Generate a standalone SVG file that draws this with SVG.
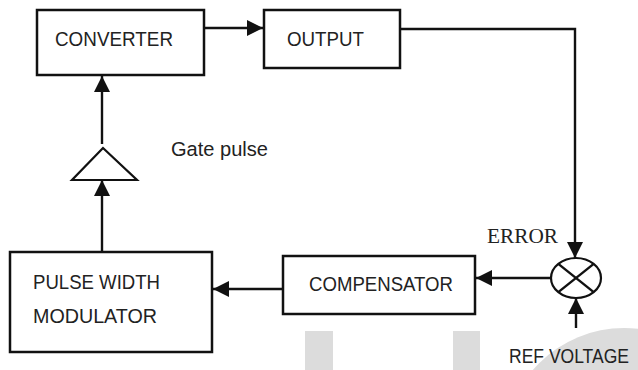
<svg xmlns="http://www.w3.org/2000/svg" width="638" height="370" viewBox="0 0 638 370">
<style>
.box{fill:#fff;stroke:#111;stroke-width:2.5}
.ln{fill:none;stroke:#111;stroke-width:2.4}
.t{font-family:"Liberation Sans",Arial,sans-serif;font-size:20.5px;fill:#222}
.s{font-family:"Liberation Serif","Times New Roman",serif;font-size:21.5px;fill:#222}
.wm{fill:#dcdcdc}
</style>
<defs>
<marker id="ah" markerUnits="userSpaceOnUse" markerWidth="17" markerHeight="17" refX="16" refY="8" orient="auto" viewBox="0 0 17 16">
<path d="M0,0 L16,8 L0,16 z" fill="#111"/>
</marker>
</defs>
<rect width="638" height="370" fill="#fff"/>
<g id="watermark">
<rect class="wm" x="305" y="331" width="28" height="39"/>
<rect class="wm" x="453" y="331" width="27" height="39"/>
<circle class="wm" cx="624" cy="448" r="120"/>
</g>
<g id="connectors">
<line class="ln" x1="205" y1="28" x2="263" y2="28" marker-end="url(#ah)"/>
<polyline class="ln" points="400,29 575,29 575,258" marker-end="url(#ah)"/>
<line class="ln" x1="551" y1="278" x2="476" y2="278" marker-end="url(#ah)"/>
<line class="ln" x1="576" y1="328" x2="576" y2="298" marker-end="url(#ah)"/>
<line class="ln" x1="283" y1="289" x2="213" y2="289" marker-end="url(#ah)"/>
<line class="ln" x1="102" y1="252" x2="102" y2="180" marker-end="url(#ah)"/>
<line class="ln" x1="102" y1="144" x2="102" y2="76" marker-end="url(#ah)"/>
</g>
<g id="converter">
<rect class="box" x="37" y="10" width="167" height="65"/>
<text class="t" x="55" y="46" textLength="118" lengthAdjust="spacingAndGlyphs">CONVERTER</text>
</g>
<g id="output">
<rect class="box" x="264" y="10" width="136" height="58"/>
<text class="t" x="287" y="46" textLength="77" lengthAdjust="spacingAndGlyphs">OUTPUT</text>
</g>
<g id="gate-driver">
<polygon points="103,148 137,180 72,180" fill="#fff" stroke="#111" stroke-width="2.2"/>
<text class="t" x="171" y="156" textLength="97" lengthAdjust="spacingAndGlyphs">Gate pulse</text>
</g>
<g id="pwm">
<rect class="box" x="10" y="252" width="202" height="100"/>
<text class="t" x="33" y="289" textLength="127" lengthAdjust="spacingAndGlyphs">PULSE WIDTH</text>
<text class="t" x="33" y="323" textLength="124" lengthAdjust="spacingAndGlyphs">MODULATOR</text>
</g>
<g id="compensator">
<rect class="box" x="283" y="256" width="192" height="58"/>
<text class="t" x="309" y="291" textLength="144" lengthAdjust="spacingAndGlyphs">COMPENSATOR</text>
</g>
<g id="summer">
<ellipse cx="576" cy="278" rx="25" ry="20" fill="#fff" stroke="#111" stroke-width="2.2"/>
<line class="ln" x1="558.3" y1="263.9" x2="593.7" y2="292.1" stroke-width="1.8"/>
<line class="ln" x1="558.3" y1="292.1" x2="593.7" y2="263.9" stroke-width="1.8"/>
<text class="s" x="487" y="243" textLength="71" lengthAdjust="spacingAndGlyphs">ERROR</text>
</g>
<g id="ref">
<text class="t" x="509" y="363" font-size="19" textLength="120" lengthAdjust="spacingAndGlyphs">REF VOLTAGE</text>
</g>
</svg>
